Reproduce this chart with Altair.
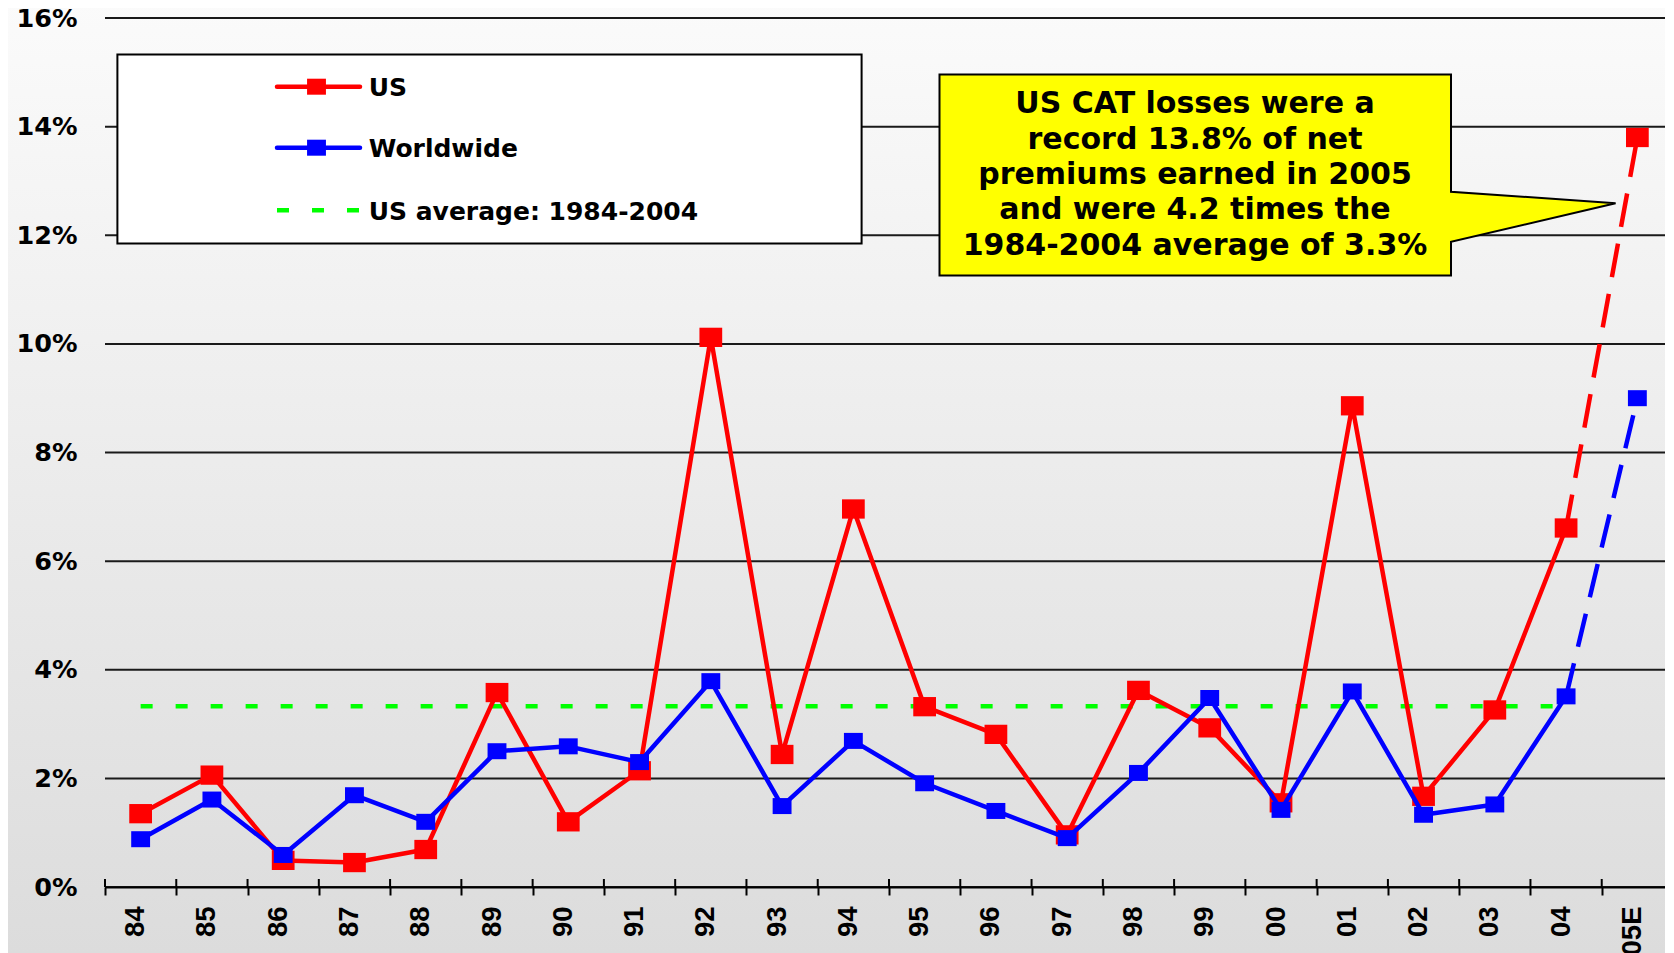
import altair as alt
import pandas as pd

# ---------------- data ----------------
YEARS = ['84', '85', '86', '87', '88', '89', '90', '91', '92', '93', '94',
         '95', '96', '97', '98', '99', '00', '01', '02', '03', '04', '05E']
US = [1.35, 2.06, 0.49, 0.45, 0.69, 3.58, 1.20, 2.14, 10.12, 2.44, 6.96,
      3.32, 2.81, 0.96, 3.62, 2.93, 1.55, 8.86, 1.67, 3.26, 6.61, 13.8]
WORLDWIDE = [0.88, 1.61, 0.59, 1.69, 1.20, 2.50, 2.59, 2.30, 3.79, 1.49, 2.69,
             1.91, 1.40, 0.90, 2.10, 3.48, 1.42, 3.60, 1.33, 1.52, 3.51, 9.00]
US_AVG = 3.33
AVG_SPAN = ['84', '04']
ESTIMATE_SPAN = ['04', '05E']
Y_TICKS = [0, 2, 4, 6, 8, 10, 12, 14, 16]
SERIES = ['US', 'Worldwide']
LEGEND_LABELS = ['US', 'Worldwide', 'US average: 1984-2004']
CALLOUT_LINES = ['US CAT losses were a',
                 'record 13.8% of net',
                 'premiums earned in 2005',
                 'and were 4.2 times the',
                 '1984-2004 average of 3.3%']

# ---------------- layout / style ----------------
W, H = 1568, 869
RED, BLUE, GREEN = '#ff0000', '#0000ff', '#00ff00'
RECT_PATH = 'M-1.18,-1H1.18V1H-1.18Z'
LABEL_FONT = 'Liberation Sans'
TEXT_FONT = 'DejaVu Sans'

rows = []
for i, yr in enumerate(YEARS):
    rows.append({'year': yr, 'series': 'US', 'v': US[i]})
    rows.append({'year': yr, 'series': 'Worldwide', 'v': WORLDWIDE[i]})
df = pd.DataFrame(rows)
one = pd.DataFrame({'k': [0]})

xscale = alt.Scale(type='band', domain=YEARS, paddingInner=0, paddingOuter=0)
yscale = alt.Scale(domain=[0, 16], nice=False, zero=True)

xaxis = alt.Axis(title=None, zindex=1, domain=True, domainColor='black', domainWidth=2,
                 ticks=True, tickBand='extent', tickColor='black', tickWidth=2, tickSize=8,
                 labelAngle=270, labelPadding=11, labelOffset=-5,
                 labelFont=LABEL_FONT, labelFontWeight='bold', labelFontSize=27.5,
                 labelColor='black', grid=False)
yaxis = alt.Axis(title=None, zindex=1, domain=False, ticks=False, grid=False,
                 values=Y_TICKS, labelExpr="datum.value + '%'", labelPadding=28,
                 labelFont=TEXT_FONT, labelFontWeight='bold', labelFontSize=25.5,
                 labelColor='black')

X = lambda **kw: alt.X('year:N', sort=YEARS, scale=xscale, axis=xaxis, **kw)
Y = alt.Y('v:Q', scale=yscale, axis=yaxis)

# background gradient
bg = alt.Chart(one).mark_rect(
    fill=alt.LinearGradient(gradient='linear',
                            stops=[alt.GradientStop(color='#fbfbfb', offset=0),
                                   alt.GradientStop(color='#dcdcdc', offset=1)],
                            x1=0, x2=0, y1=0, y2=1)
).encode(x=alt.value(-110), x2=alt.value(W + 20), y=alt.value(-18), y2=alt.value(H + 66))

# horizontal gridlines
grid = alt.Chart(pd.DataFrame({'v': Y_TICKS})).mark_rule(
    color='#1a1a1a', strokeWidth=2
).encode(y=Y, x=alt.value(0), x2=alt.value(W))

# upper half of the x tick marks (crossing the axis line)
ticks_up = alt.Chart(pd.DataFrame({'year': YEARS})).mark_rule(
    color='black', strokeWidth=2
).encode(x=X(bandPosition=0), y=alt.value(H - 8), y2=alt.value(H))

# US average line
avg = alt.Chart(pd.DataFrame({'year': AVG_SPAN, 'v': [US_AVG, US_AVG]})).mark_line(
    color=GREEN, strokeWidth=4.5, strokeDash=[12, 23]
).encode(x=X(bandPosition=0.5), y=Y)

# legend box
leg_box = alt.Chart(one).mark_rect(fill='white', stroke='black', strokeWidth=2).encode(
    x=alt.value(12.4), x2=alt.value(756.6), y=alt.value(36.4), y2=alt.value(225.4))

leg_rows_y = [68.7, 129.7, 192.3]
leg_base_y = [77.5, 139.3, 202.0]
leg_colors = [RED, BLUE, GREEN]
leg_layers = []
for i, lab in enumerate(LEGEND_LABELS):
    if i < 2:
        leg_layers.append(alt.Chart(one).mark_rule(color=leg_colors[i], strokeWidth=4.5, strokeCap='round').encode(
            x=alt.value(172), x2=alt.value(255), y=alt.value(leg_rows_y[i])))
        leg_layers.append(alt.Chart(one).mark_point(shape=RECT_PATH, filled=True, size=256,
                                                    color=leg_colors[i], opacity=1).encode(
            x=alt.value(211.5), y=alt.value(leg_rows_y[i])))
    else:
        leg_layers.append(alt.Chart(one).mark_rule(color=GREEN, strokeWidth=4.5, strokeDash=[12, 23]).encode(
            x=alt.value(172), x2=alt.value(257), y=alt.value(leg_rows_y[i])))
    leg_layers.append(alt.Chart(one).mark_text(
        align='left', baseline='alphabetic', font=TEXT_FONT, fontWeight='bold',
        fontSize=25, color='black').encode(
        x=alt.value(263.7), y=alt.value(leg_base_y[i]), text=alt.value(lab)))

# callout (box with pointer)
CALLOUT_PATH = ('M834.5,56.5H1346V173.7L1510.6,185.3L1346,223.7V257.4H834.5Z')
callout = alt.Chart(one).mark_point(
    shape=CALLOUT_PATH, size=4, filled=True, fill='#ffff00', stroke='black',
    strokeWidth=2, opacity=1, fillOpacity=1, strokeOpacity=1
).encode(x=alt.value(0), y=alt.value(0))
callout_text = alt.Chart(one).mark_text(
    align='center', baseline='alphabetic', font=TEXT_FONT, fontWeight='bold',
    fontSize=30, lineHeight=35.4, lineBreak='\n', color='black'
).encode(x=alt.value(1090), y=alt.value(95.3), text=alt.value('\n'.join(CALLOUT_LINES)))

# data series
series_layers = []
for s, col, msize in [('US', RED, 372), ('Worldwide', BLUE, 256)]:
    d = df[df.series == s]
    solid = alt.Chart(d[d.year != '05E']).mark_line(
        color=col, strokeWidth=4.5, strokeJoin='round').encode(x=X(bandPosition=0.5), y=Y)
    dashed = alt.Chart(d[d.year.isin(ESTIMATE_SPAN)]).mark_line(
        color=col, strokeWidth=4.5, strokeDash=[34, 17]).encode(x=X(bandPosition=0.5), y=Y)
    pts = alt.Chart(d).mark_point(
        shape=RECT_PATH, filled=True, size=msize, color=col, opacity=1).encode(
        x=X(bandPosition=0.5), y=Y)
    series_layers += [solid, dashed, pts]

chart = alt.layer(
    bg, grid, ticks_up, avg, leg_box, *leg_layers, callout, callout_text, *series_layers
).properties(
    width=W, height=H,
    autosize=alt.AutoSizeParams(type='none'),
    padding={'left': 97, 'top': 10, 'right': -8, 'bottom': 66},
    background='#dedede'
).configure_view(stroke=None)

chart.save('out.html', embed_options={'renderer': 'svg', 'actions': False})
